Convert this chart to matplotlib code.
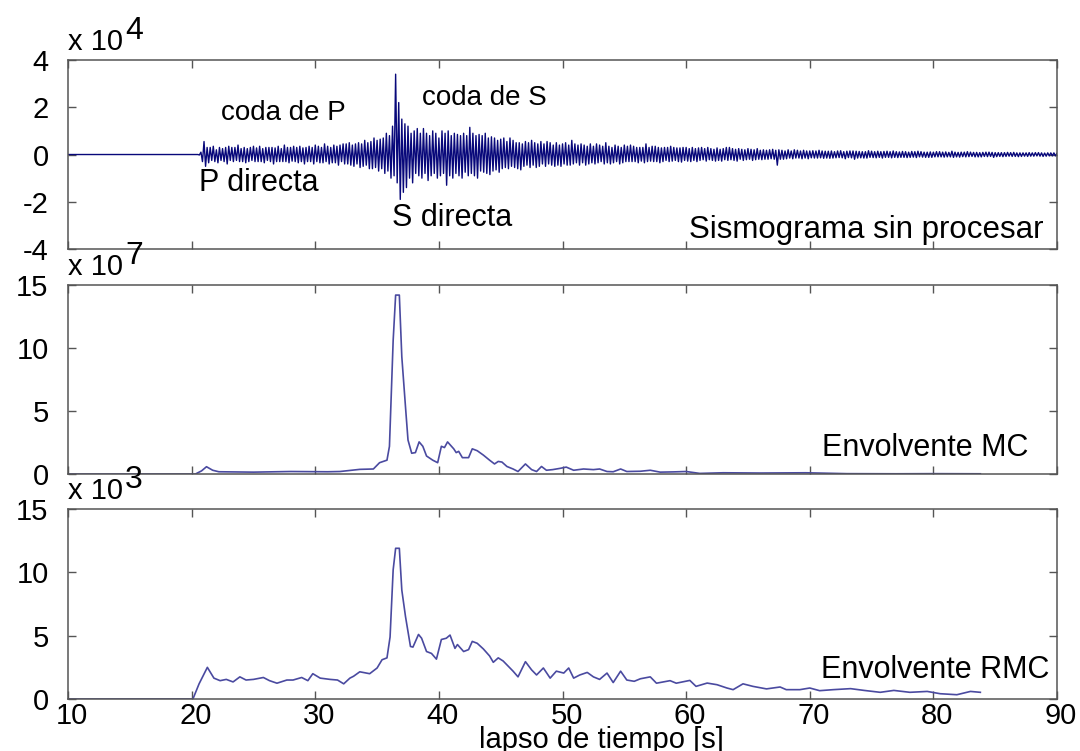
import matplotlib
matplotlib.use("Agg")
import matplotlib.pyplot as plt
import matplotlib.transforms as mtransforms
import numpy as np

plt.rcParams["font.family"] = ["Liberation Sans", "DejaVu Sans"]
plt.rcParams["axes.unicode_minus"] = False

# --- sismograma sin procesar (x 10^4): picos alternados cada 0.125 s desde 20.5 s,
#     una fila por segundo ---
seis_start = 20.5
seis_step = 0.125
seis_rows = [
    [0.0, -0.02, 0.1, -0.3, 0.55, -0.5, 0.3, -0.35],
    [0.3, -0.25, 0.35, -0.3, 0.2, -0.35, 0.3, -0.25],
    [0.25, -0.3, 0.3, -0.4, 0.35, -0.25, 0.3, -0.3],
    [0.3, -0.25, 0.4, -0.3, 0.25, -0.3, 0.3, -0.35],
    [0.25, -0.3, 0.3, -0.25, 0.35, -0.3, 0.28, -0.3],
    [0.35, -0.3, 0.25, -0.35, 0.3, -0.25, 0.3, -0.3],
    [0.3, -0.4, 0.28, -0.3, 0.35, -0.3, 0.25, -0.3],
    [0.4, -0.3, 0.3, -0.35, 0.3, -0.28, 0.35, -0.3],
    [0.3, -0.35, 0.35, -0.3, 0.28, -0.4, 0.3, -0.3],
    [0.35, -0.3, 0.3, -0.4, 0.4, -0.3, 0.35, -0.35],
    [0.3, -0.35, 0.45, -0.3, 0.35, -0.4, 0.3, -0.35],
    [0.4, -0.35, 0.35, -0.45, 0.4, -0.3, 0.45, -0.4],
    [0.45, -0.4, 0.5, -0.45, 0.4, -0.5, 0.45, -0.4],
    [0.5, -0.55, 0.45, -0.5, 0.6, -0.45, 0.5, -0.6],
    [0.55, -0.6, 0.7, -0.55, 0.6, -0.7, 0.65, -0.6],
    [0.7, -0.8, 0.9, -0.7, 0.8, -1.0, 1.2, -0.9],
    [3.4, -1.2, 2.2, -1.9, 1.5, -1.6, 1.3, -1.4],
    [1.2, -1.0, 0.9, -1.2, 1.0, -0.8, 1.1, -0.9],
    [0.9, -1.0, 1.1, -0.8, 0.9, -1.1, 0.8, -0.9],
    [1.0, -0.8, 0.9, -1.0, 0.7, -0.9, 1.0, -0.8],
    [0.9, -1.3, 1.0, -0.9, 0.8, -1.0, 0.9, -0.8],
    [0.85, -0.9, 0.8, -1.0, 0.9, -0.75, 0.8, -0.9],
    [1.15, -0.8, 0.9, -0.9, 0.8, -1.0, 0.85, -0.7],
    [0.8, -0.75, 0.9, -0.8, 0.7, -0.85, 0.75, -0.7],
    [0.7, -0.65, 0.6, -0.75, 0.65, -0.6, 0.7, -0.55],
    [0.55, -0.6, 0.7, -0.5, 0.6, -0.55, 0.5, -0.6],
    [0.5, -0.65, 0.45, -0.5, 0.55, -0.45, 0.5, -0.55],
    [0.6, -0.45, 0.5, -0.55, 0.45, -0.5, 0.55, -0.4],
    [0.45, -0.5, 0.55, -0.4, 0.5, -0.45, 0.4, -0.5],
    [0.5, -0.45, 0.4, -0.5, 0.45, -0.4, 0.5, -0.45],
    [0.4, -0.45, 0.6, -0.4, 0.45, -0.35, 0.4, -0.45],
    [0.45, -0.35, 0.4, -0.45, 0.35, -0.4, 0.45, -0.35],
    [0.35, -0.4, 0.45, -0.35, 0.4, -0.3, 0.35, -0.4],
    [0.5, -0.35, 0.35, -0.4, 0.3, -0.35, 0.4, -0.3],
    [0.35, -0.4, 0.3, -0.35, 0.4, -0.3, 0.35, -0.3],
    [0.4, -0.3, 0.35, -0.3, 0.3, -0.35, 0.3, -0.28],
    [0.3, -0.35, 0.45, -0.3, 0.3, -0.28, 0.35, -0.3],
    [0.35, -0.3, 0.3, -0.35, 0.28, -0.3, 0.3, -0.25],
    [0.3, -0.3, 0.35, -0.28, 0.3, -0.25, 0.28, -0.3],
    [0.28, -0.32, 0.3, -0.25, 0.3, -0.28, 0.25, -0.3],
    [0.3, -0.25, 0.25, -0.3, 0.28, -0.25, 0.3, -0.22],
    [0.25, -0.28, 0.3, -0.22, 0.25, -0.25, 0.22, -0.28],
    [0.28, -0.25, 0.22, -0.28, 0.25, -0.22, 0.3, -0.25],
    [0.3, -0.22, 0.25, -0.25, 0.22, -0.28, 0.25, -0.2],
    [0.22, -0.25, 0.2, -0.22, 0.25, -0.2, 0.22, -0.25],
    [0.2, -0.22, 0.25, -0.2, 0.18, -0.22, 0.2, -0.2],
    [0.18, -0.2, 0.2, -0.18, 0.22, -0.2, 0.18, -0.45],
    [0.2, -0.2, 0.18, -0.2, 0.15, -0.18, 0.2, -0.15],
    [0.15, -0.18, 0.2, -0.15, 0.18, -0.15, 0.15, -0.18],
    [0.18, -0.15, 0.15, -0.18, 0.15, -0.14, 0.16, -0.15],
    [0.15, -0.15, 0.18, -0.14, 0.15, -0.16, 0.14, -0.15],
    [0.14, -0.16, 0.15, -0.15, 0.12, -0.14, 0.15, -0.13],
    [0.16, -0.14, 0.12, -0.18, 0.14, -0.13, 0.15, -0.14],
    [0.15, -0.2, 0.14, -0.15, 0.13, -0.14, 0.12, -0.15],
    [0.12, -0.15, 0.16, -0.12, 0.14, -0.13, 0.12, -0.14],
    [0.14, -0.12, 0.12, -0.15, 0.13, -0.12, 0.14, -0.12],
    [0.12, -0.14, 0.15, -0.12, 0.12, -0.13, 0.11, -0.12],
    [0.13, -0.12, 0.12, -0.13, 0.1, -0.12, 0.13, -0.11],
    [0.12, -0.13, 0.14, -0.1, 0.12, -0.11, 0.1, -0.12],
    [0.1, -0.12, 0.11, -0.12, 0.1, -0.1, 0.12, -0.1],
    [0.12, -0.1, 0.1, -0.11, 0.11, -0.1, 0.09, -0.1],
    [0.14, -0.12, 0.1, -0.1, 0.09, -0.11, 0.1, -0.09],
    [0.1, -0.1, 0.12, -0.09, 0.1, -0.08, 0.09, -0.1],
    [0.09, -0.1, 0.08, -0.1, 0.09, -0.08, 0.1, -0.09],
    [0.1, -0.08, 0.09, -0.12, 0.08, -0.09, 0.08, -0.08],
    [0.08, -0.09, 0.08, -0.08, 0.09, -0.07, 0.08, -0.08],
    [0.09, -0.08, 0.07, -0.09, 0.07, -0.08, 0.07, -0.07],
    [0.07, -0.08, 0.08, -0.07, 0.07, -0.07, 0.08, -0.06],
    [0.08, -0.07, 0.07, -0.08, 0.06, -0.07, 0.07, -0.06],
    [0.07, -0.06, 0.07, -0.06, 0.06, -0.06, 0.05, -0.06],
]

# --- envolvente MC (x 10^7) ---
mc_t = [10.0, 20.3, 20.8, 21.2, 21.7, 22.2, 25.0, 28.0, 31.0, 32.0, 33.6, 34.7,
        35.2, 35.8, 36.0, 36.3, 36.5, 36.8, 37.0, 37.3, 37.5, 37.8, 38.1, 38.4,
        38.7, 39.0, 39.5, 39.9, 40.2, 40.45, 40.7, 41.2, 41.4, 41.6, 41.9, 42.4,
        42.7, 43.1, 43.6, 44.1, 44.5, 44.8, 45.1, 45.5, 46.0, 46.4, 47.0, 47.5,
        47.9, 48.3, 48.7, 49.2, 49.8, 50.3, 50.9, 51.7, 52.5, 53.0, 53.6, 54.1,
        54.7, 55.2, 56.3, 57.1, 57.9, 59.0, 60.0, 61.1, 63.0, 66.0, 69.7, 73.0,
        77.0, 80.0, 83.8]
mc_v = [0.0, 0.0, 0.25, 0.58, 0.3, 0.18, 0.15, 0.2, 0.18, 0.2, 0.37, 0.4,
        0.9, 1.1, 2.2, 10.6, 14.2, 14.2, 9.3, 5.3, 2.7, 1.65, 1.7, 2.55,
        2.2, 1.43, 1.1, 0.9, 2.2, 2.1, 2.55, 2.0, 1.7, 1.8, 1.3, 1.3,
        2.0, 1.85, 1.5, 1.1, 0.8, 1.0, 0.95, 0.6, 0.4, 0.2, 0.8, 0.35,
        0.2, 0.6, 0.3, 0.35, 0.45, 0.55, 0.3, 0.4, 0.35, 0.4, 0.2, 0.18,
        0.4, 0.2, 0.22, 0.3, 0.15, 0.17, 0.2, 0.05, 0.1, 0.08, 0.1, 0.03,
        0.02, 0.03, 0.02]

# --- envolvente RMC (x 10^3) ---
rmc_t = [10.0, 20.1, 20.6, 21.27, 21.8, 22.3, 22.8, 23.35, 23.9, 24.4, 25.0,
         25.8, 26.3, 26.9, 27.7, 28.2, 28.9, 29.4, 29.8, 30.4, 31.2, 31.8,
         32.3, 32.8, 33.1, 33.6, 34.4, 35.0, 35.4, 35.8, 36.05, 36.3, 36.5,
         36.8, 37.0, 37.3, 37.7, 37.9, 38.35, 38.6, 39.0, 39.4, 39.8, 40.2,
         40.6, 40.9, 41.3, 41.5, 42.0, 42.4, 42.7, 43.1, 43.6, 44.1, 44.4,
         44.8, 45.2, 45.6, 46.0, 46.4, 47.0, 47.5, 47.9, 48.45, 49.0, 49.5,
         50.1, 50.5, 50.9, 51.4, 52.0, 52.5, 53.0, 53.6, 54.1, 54.7, 55.2,
         55.8, 56.3, 57.1, 57.6, 58.7, 59.2, 60.3, 60.8, 61.7, 62.5, 63.3,
         63.8, 64.6, 65.4, 66.5, 67.6, 68.1, 69.2, 70.0, 70.8, 71.9, 73.3,
         74.4, 75.7, 76.8, 78.1, 79.5, 80.55, 81.9, 83.0, 83.8]
rmc_v = [0.0, 0.0, 1.2, 2.5, 1.65, 1.45, 1.55, 1.35, 1.75, 1.5, 1.55,
         1.7, 1.45, 1.25, 1.5, 1.5, 1.7, 1.45, 2.0, 1.65, 1.55, 1.5,
         1.2, 1.65, 1.8, 2.15, 2.0, 2.45, 3.1, 3.25, 4.9, 10.2, 11.9,
         11.9, 8.6, 6.5, 4.15, 4.1, 5.1, 4.8, 3.75, 3.6, 3.15, 4.7,
         4.8, 5.05, 4.0, 4.3, 3.75, 3.9, 4.55, 4.4, 3.95, 3.4, 2.9,
         3.25, 3.0, 2.6, 2.2, 1.75, 2.95, 2.3, 1.9, 2.45, 1.65, 2.2,
         2.05, 2.45, 1.65, 1.9, 2.1, 1.75, 1.55, 2.05, 1.3, 2.2, 1.5,
         1.4, 1.6, 1.75, 1.25, 1.45, 1.25, 1.47, 1.0, 1.26, 1.13, 0.87,
         0.74, 1.2, 1.0, 0.8, 0.95, 0.74, 0.74, 0.87, 0.66, 0.74, 0.82,
         0.68, 0.53, 0.68, 0.53, 0.6, 0.42, 0.34, 0.6, 0.53]

x_ticks = [10, 20, 30, 40, 50, 60, 70, 80, 90]

seis_v = [0.0] + [v for row in seis_rows for v in row]
seis_t = np.concatenate([[10.0], seis_start + seis_step * np.arange(len(seis_v) - 1)])

FS = 21
spine_col = "#555555"
fig = plt.figure(figsize=(10.8, 7.51), dpi=100)

left, width = 0.063, 0.9157
ax1 = fig.add_axes([left, 0.6684, width, 0.2517])
ax2 = fig.add_axes([left, 0.3688, width, 0.2517])
ax3 = fig.add_axes([left, 0.0692, width, 0.2530])


def style(ax, yticks, ylim, exp):
    ax.set_xlim(10, 90)
    ax.set_ylim(*ylim)
    ax.set_xticks(x_ticks)
    ax.set_yticks(yticks)
    ax.tick_params(direction="in", length=6, width=1, color=spine_col,
                   top=True, right=True, labelsize=FS, pad=2)
    ax.tick_params(axis="y", pad=14)
    for s in ax.spines.values():
        s.set_color(spine_col)
        s.set_linewidth(1.1)
    # factor de escala al estilo MATLAB: "x 10" con el exponente grande
    ax.annotate("x 10", (0, 1), xycoords="axes fraction", xytext=(0, 10),
                textcoords="offset pixels", ha="left", va="baseline", fontsize=FS)
    ax.annotate(str(exp), (0, 1), xycoords="axes fraction", xytext=(57, 21),
                textcoords="offset pixels", ha="left", va="baseline", fontsize=FS + 2)


ax1.plot(seis_t, seis_v, color="#08087a", lw=1.0)
style(ax1, [-4, -2, 0, 2, 4], (-4, 4), 4)
ax1.tick_params(axis="x", labelbottom=False)
ax1.text(22.4, 1.75, "coda de P", fontsize=20, va="center")
ax1.text(20.6, -1.2, "P directa", fontsize=22, va="center")
ax1.text(38.6, 2.4, "coda de S", fontsize=20, va="center")
ax1.text(36.2, -2.7, "S directa", fontsize=22, va="center")
ax1.text(88.9, -3.2, "Sismograma sin procesar", fontsize=22.5, va="center", ha="right")

ax2.plot(mc_t, mc_v, color="#4a4aa0", lw=1.2)
style(ax2, [0, 5, 10, 15], (0, 15), 7)
ax2.tick_params(axis="x", labelbottom=False)
ax2.text(87.7, 2.1, "Envolvente MC", fontsize=22, va="center", ha="right")

ax3.plot(rmc_t, rmc_v, color="#4a4aa0", lw=1.2)
style(ax3, [0, 5, 10, 15], (0, 15), 3)
ax3.text(89.4, 2.3, "Envolvente RMC", fontsize=22, va="center", ha="right")
ax3.set_xlabel("lapso de tiempo [s]", fontsize=21)
ax3.xaxis.set_label_coords(0.539, -0.14)

# etiquetas del eje x ligeramente desplazadas a la derecha, como en el original
shift = mtransforms.ScaledTranslation(4 / 100, 0, fig.dpi_scale_trans)
for lab in ax3.get_xticklabels():
    lab.set_transform(lab.get_transform() + shift)

fig.savefig("out.png", dpi=100, facecolor="white")
